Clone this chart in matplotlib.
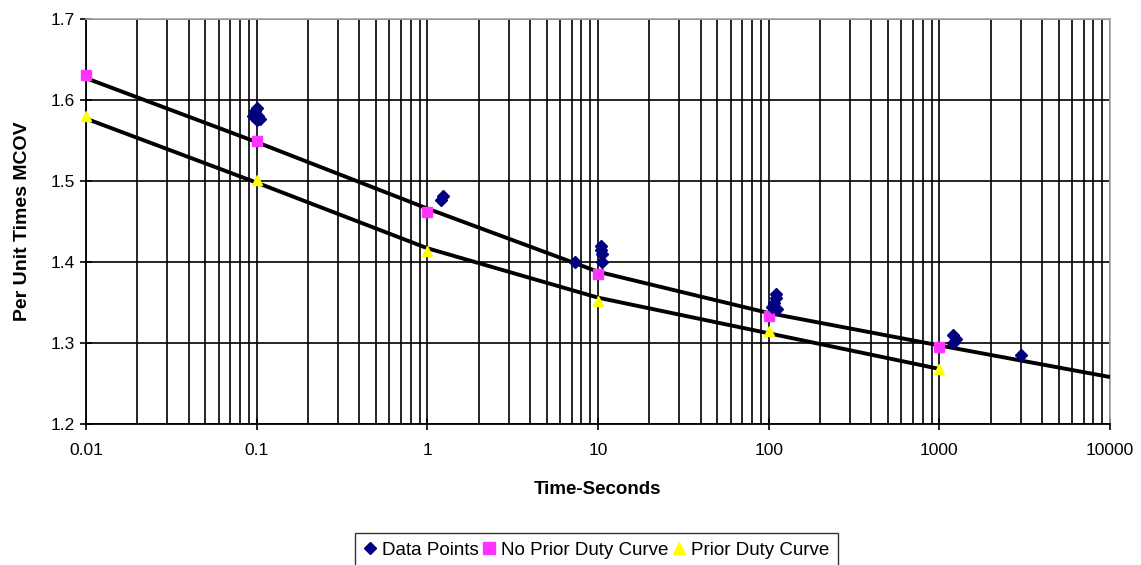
import matplotlib
matplotlib.use("Agg")
import matplotlib.pyplot as plt
from matplotlib.ticker import FixedLocator, LogLocator, NullFormatter
from matplotlib.lines import Line2D

plt.rcParams['font.family'] = ['Liberation Sans', 'DejaVu Sans']

# ---- data ----
data_x = [0.095, 0.098, 0.1, 0.1, 0.102, 0.104, 1.2, 1.23, 7.3, 10.4, 10.5, 10.5, 10.4,
          105, 108, 110, 110, 112, 1200, 1200, 1250, 3000]
data_y = [1.58, 1.586, 1.59, 1.575, 1.58, 1.577, 1.477, 1.481, 1.40, 1.42, 1.41, 1.40, 1.415,
          1.345, 1.35, 1.36, 1.355, 1.342, 1.31, 1.30, 1.305, 1.285]

upper_curve_x = [0.01, 0.1, 1, 10, 100, 1000, 10000]
upper_curve_y = [1.627, 1.548, 1.466, 1.388, 1.337, 1.297, 1.258]
lower_curve_x = [0.01, 0.1, 1, 10, 100, 1000]
lower_curve_y = [1.577, 1.498, 1.417, 1.356, 1.312, 1.268]

no_prior_x = [0.01, 0.1, 1, 10, 100, 1000]
no_prior_y = [1.631, 1.55, 1.462, 1.385, 1.333, 1.295]
prior_x = [0.01, 0.1, 1, 10, 100, 1000]
prior_y = [1.58, 1.501, 1.413, 1.352, 1.315, 1.268]

x_ticks = [0.01, 0.1, 1, 10, 100, 1000, 10000]
x_tick_labels = ["0.01", "0.1", "1", "10", "100", "1000", "10000"]
y_ticks = [1.2, 1.3, 1.4, 1.5, 1.6, 1.7]
y_tick_labels = ["1.2", "1.3", "1.4", "1.5", "1.6", "1.7"]

# ---- figure ----
fig = plt.figure(figsize=(11.41, 5.65), dpi=100)
ax = fig.add_axes([86/1141, 1-424/565, (1110-86)/1141, (424-19)/565])
ax.set_xscale('log')
ax.set_xlim(0.01, 10000)
ax.set_ylim(1.2, 1.7)

ax.xaxis.set_major_locator(FixedLocator(x_ticks))
ax.set_xticklabels(x_tick_labels)
ax.xaxis.set_minor_locator(LogLocator(base=10, subs=range(2, 10), numticks=100))
ax.xaxis.set_minor_formatter(NullFormatter())
ax.set_yticks(y_ticks)
ax.set_yticklabels(y_tick_labels)

ax.grid(True, which='both', axis='x', color='black', lw=1.2)
ax.grid(True, which='major', axis='y', color='black', lw=1.2)
ax.set_axisbelow(True)

ax.tick_params(axis='both', which='major', direction='inout', length=8, width=1.2,
               labelsize=12.5, colors='black')
ax.tick_params(axis='x', which='minor', length=0)
ax.tick_params(axis='x', which='major', pad=10)
ax.tick_params(axis='y', which='major', pad=4)

for s in ['left', 'bottom']:
    ax.spines[s].set_color('black')
    ax.spines[s].set_linewidth(1.3)
for s in ['top', 'right']:
    ax.spines[s].set_color('#a8a8a8')
    ax.spines[s].set_linewidth(1.2)

ax.plot(upper_curve_x, upper_curve_y, color='black', lw=2.8, zorder=3, solid_capstyle='butt')
ax.plot(lower_curve_x, lower_curve_y, color='black', lw=2.8, zorder=3, solid_capstyle='butt')

ax.plot(no_prior_x, no_prior_y, ls='none', marker='s', ms=7, color='#ff33ff', zorder=4, clip_on=False)
ax.plot(prior_x, prior_y, ls='none', marker='^', ms=7, color='#ffff00', zorder=4, clip_on=False)
ax.plot(data_x, data_y, ls='none', marker='D', ms=6, color='#000080', zorder=5)

ax.set_xlabel('Time-Seconds', fontsize=13.5, fontweight='bold', labelpad=16)
ax.set_ylabel('Per Unit Times MCOV', fontsize=14, fontweight='bold', labelpad=14)

handles = [
    Line2D([], [], ls='none', marker='D', ms=6, color='#000080', label='Data Points'),
    Line2D([], [], ls='none', marker='s', ms=8, color='#ff33ff', label='No Prior Duty Curve'),
    Line2D([], [], ls='none', marker='^', ms=8, color='#ffff00', label='Prior Duty Curve'),
]
leg = fig.legend(handles=handles, loc='upper center', bbox_to_anchor=(596/1141, 1-533/565),
                 ncol=3, frameon=True, fancybox=False, edgecolor='black', fontsize=13.5,
                 handlelength=0.7, handletextpad=0.3, columnspacing=0.2, borderpad=0.45,
                 borderaxespad=0)
leg.get_frame().set_linewidth(1.0)

fig.savefig('out.png', dpi=100)
